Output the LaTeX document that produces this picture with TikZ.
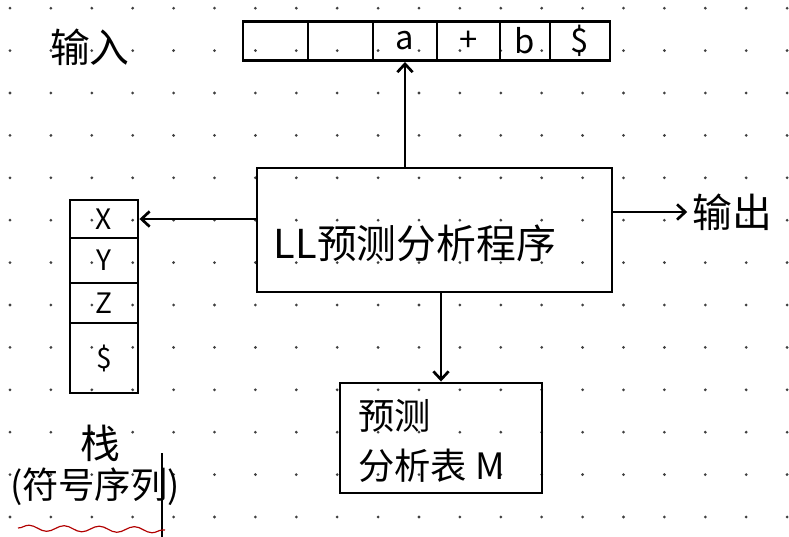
\documentclass[tikz,border=0pt]{standalone}
\usepackage{fontspec}
\newfontfamily\cjk{Noto Sans CJK SC}
\usetikzlibrary{arrows.meta,decorations.pathmorphing}
\begin{document}
\begin{tikzpicture}[x=0.3mm,y=-0.3mm,
  ink/.style={line width=2.5pt, draw=black},
  arr/.style={ink, -{Straight Barb[length=7pt,width=13pt,line width=2.3pt]}},
  cell/.style={ink, inner sep=0pt, minimum height=11.7mm, font=\cjk\fontsize{28}{30}\selectfont},
  scell/.style={ink, inner sep=0pt, minimum width=20.4mm, font=\cjk\fontsize{24}{26}\selectfont},
  big/.style={inner sep=0pt, font=\cjk\fontsize{34}{38}\selectfont},
  mid/.style={inner sep=0pt, font=\cjk\fontsize{31}{42}\selectfont},
  gdot/.style={fill=black!75}
]
\fill[white] (0,0) rectangle (789,537);
\useasboundingbox (0,0) rectangle (789,537);
% dotted paper grid
\foreach \i in {0,...,19}
  \foreach \j in {0,...,12}
    \fill[gdot] (10+\i*40.9, 8.2+\j*42.4) circle (1.3pt);

% input label and tape
\node[big] (in) at (90,47) {输入};
\node[cell, minimum width=19.5mm] (t1) at (275.5,41) {};
\node[cell, minimum width=19.5mm] (t2) at (340.5,41) {};
\node[cell, minimum width=19.2mm] (t3) at (405,41) {a};
\node[cell, minimum width=18.9mm] (t4) at (468.5,41) {+};
\node[cell, minimum width=15mm]   (t5) at (525,41) {b};
\node[cell, minimum width=18mm]   (t6) at (580,41) {\$};

% program box
\node[ink, minimum width=106.5mm, minimum height=37.2mm] (prog) at (434.5,230) {};
\node[big] (progtext) at (415,243) {LL预测分析程序};

% output
\node[big] (out) at (732,212) {输出};

% stack
\node[scell, minimum height=11.4mm] (s1) at (104,219) {X};
\node[scell, minimum height=13.5mm] (s2) at (104,260.5) {Y};
\node[scell, minimum height=12mm]   (s3) at (104,303) {Z};
\node[scell, minimum height=21mm]   (s4) at (104,358) {\$};
\node[big] (stk) at (100,443) {栈};
\node[mid] (stkdesc) at (95,487) {(符号序列)};

% parsing table
\node[ink, minimum width=60.6mm, minimum height=33mm] (tab) at (441,438) {};
\node[mid, align=left, anchor=west] (tabtext) at (358,441) {预测\\分析表 M};

% connectors
\draw[arr] (t3.south |- prog.north) -- (t3.south);
\draw[arr] (prog.west |- s1.east) -- (s1.east);
\draw[arr] (prog.east |- out.west) -- ([xshift=-4pt]out.west);
\draw[arr] (prog.south -| tab.north) -- (tab.north);

% marks under the stack label
\coordinate (vtop) at (162,453);
\coordinate (vbot) at (162,537);
\draw[ink] (vtop) -- (vbot);
\coordinate (wl) at (18,528);
\coordinate (wr) at (165,530);
\draw[red!70!black, line width=1pt, decorate, decoration={snake, amplitude=2.5pt, segment length=30pt}] (wl) -- (wr);
\end{tikzpicture}
\end{document}
